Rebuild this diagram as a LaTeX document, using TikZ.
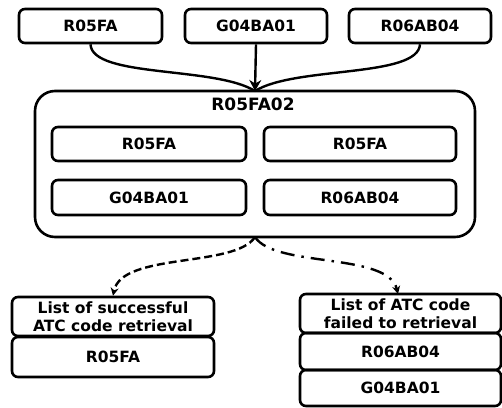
\documentclass[tikz,border=0pt]{standalone}
\usepackage{fontspec}
\setmainfont{DejaVu Sans}
\usetikzlibrary{arrows.meta}
\tikzset{
  box/.style={draw, line width=2.6pt, rounded corners=6pt, minimum height=34pt, inner sep=0pt, font=\fontsize{15.5}{17}\selectfont\bfseries},
  frame/.style={draw, line width=2.6pt, rounded corners=20pt, inner sep=0pt},
  head/.style={box, align=center, font=\fontsize{15.5}{18.5}\selectfont\bfseries},
  link/.style={line width=2.4pt},
}
\begin{document}
\begin{tikzpicture}[x=1pt,y=-1pt]
\useasboundingbox (0,0) rectangle (502,407);
% input codes
\node[box, minimum width=143pt] (t1) at (90.5,26) {R05FA};
\node[box, minimum width=142pt] (t2) at (256,26) {G04BA01};
\node[box, minimum width=142pt] (t3) at (420,26) {R06AB04};
% combined code with its parts
\node[frame, minimum width=440pt, minimum height=146pt] (big) at (255,164) {};
\node[font=\fontsize{17}{19}\selectfont\bfseries] (title) at (253,104) {R05FA02};
\node[box, minimum width=194pt] (i1) at (149,144) {R05FA};
\node[box, minimum width=192pt] (i2) at (360,144) {R05FA};
\node[box, minimum width=194pt, minimum height=35pt] (i3) at (149,197.5) {G04BA01};
\node[box, minimum width=192pt, minimum height=35pt] (i4) at (360,197.5) {R06AB04};
% result lists
\node[head, minimum width=202pt, minimum height=39pt] (lh) at (113,316.5) {List of successful\\ATC code retrieval};
\node[box, minimum width=202pt, minimum height=40pt] (l1) at (113,357) {R05FA};
\node[head, minimum width=201pt, minimum height=39pt] (rh) at (400.5,313.5) {List of ATC code\\failed to retrieval};
\node[box, minimum width=201pt, minimum height=37pt] (r1) at (400.5,351.5) {R06AB04};
\node[box, minimum width=201pt, minimum height=36pt] (r2) at (400.5,388) {G04BA01};
% connectors
\coordinate (in) at (255,91);
\coordinate (out) at (255,237);
\draw[link] (t1.south) .. controls (92,78) and (215,66) .. (in);
\draw[link] (t3.south) .. controls (418,78) and (295,66) .. (in);
\draw[link, -{Stealth[length=11pt,width=12pt]}] (t2.south) -- (in);
\draw[link, dash pattern=on 8pt off 4pt, -{Stealth[length=8pt,width=8pt]}] (out) .. controls (235,268) and (122,252) .. (lh.north);
\draw[link, dash pattern=on 14pt off 7pt on 2.5pt off 7pt, -{Stealth[length=8pt,width=8pt]}] (out) .. controls (275,268) and (388,252) .. (398,294);
\end{tikzpicture}
\end{document}
